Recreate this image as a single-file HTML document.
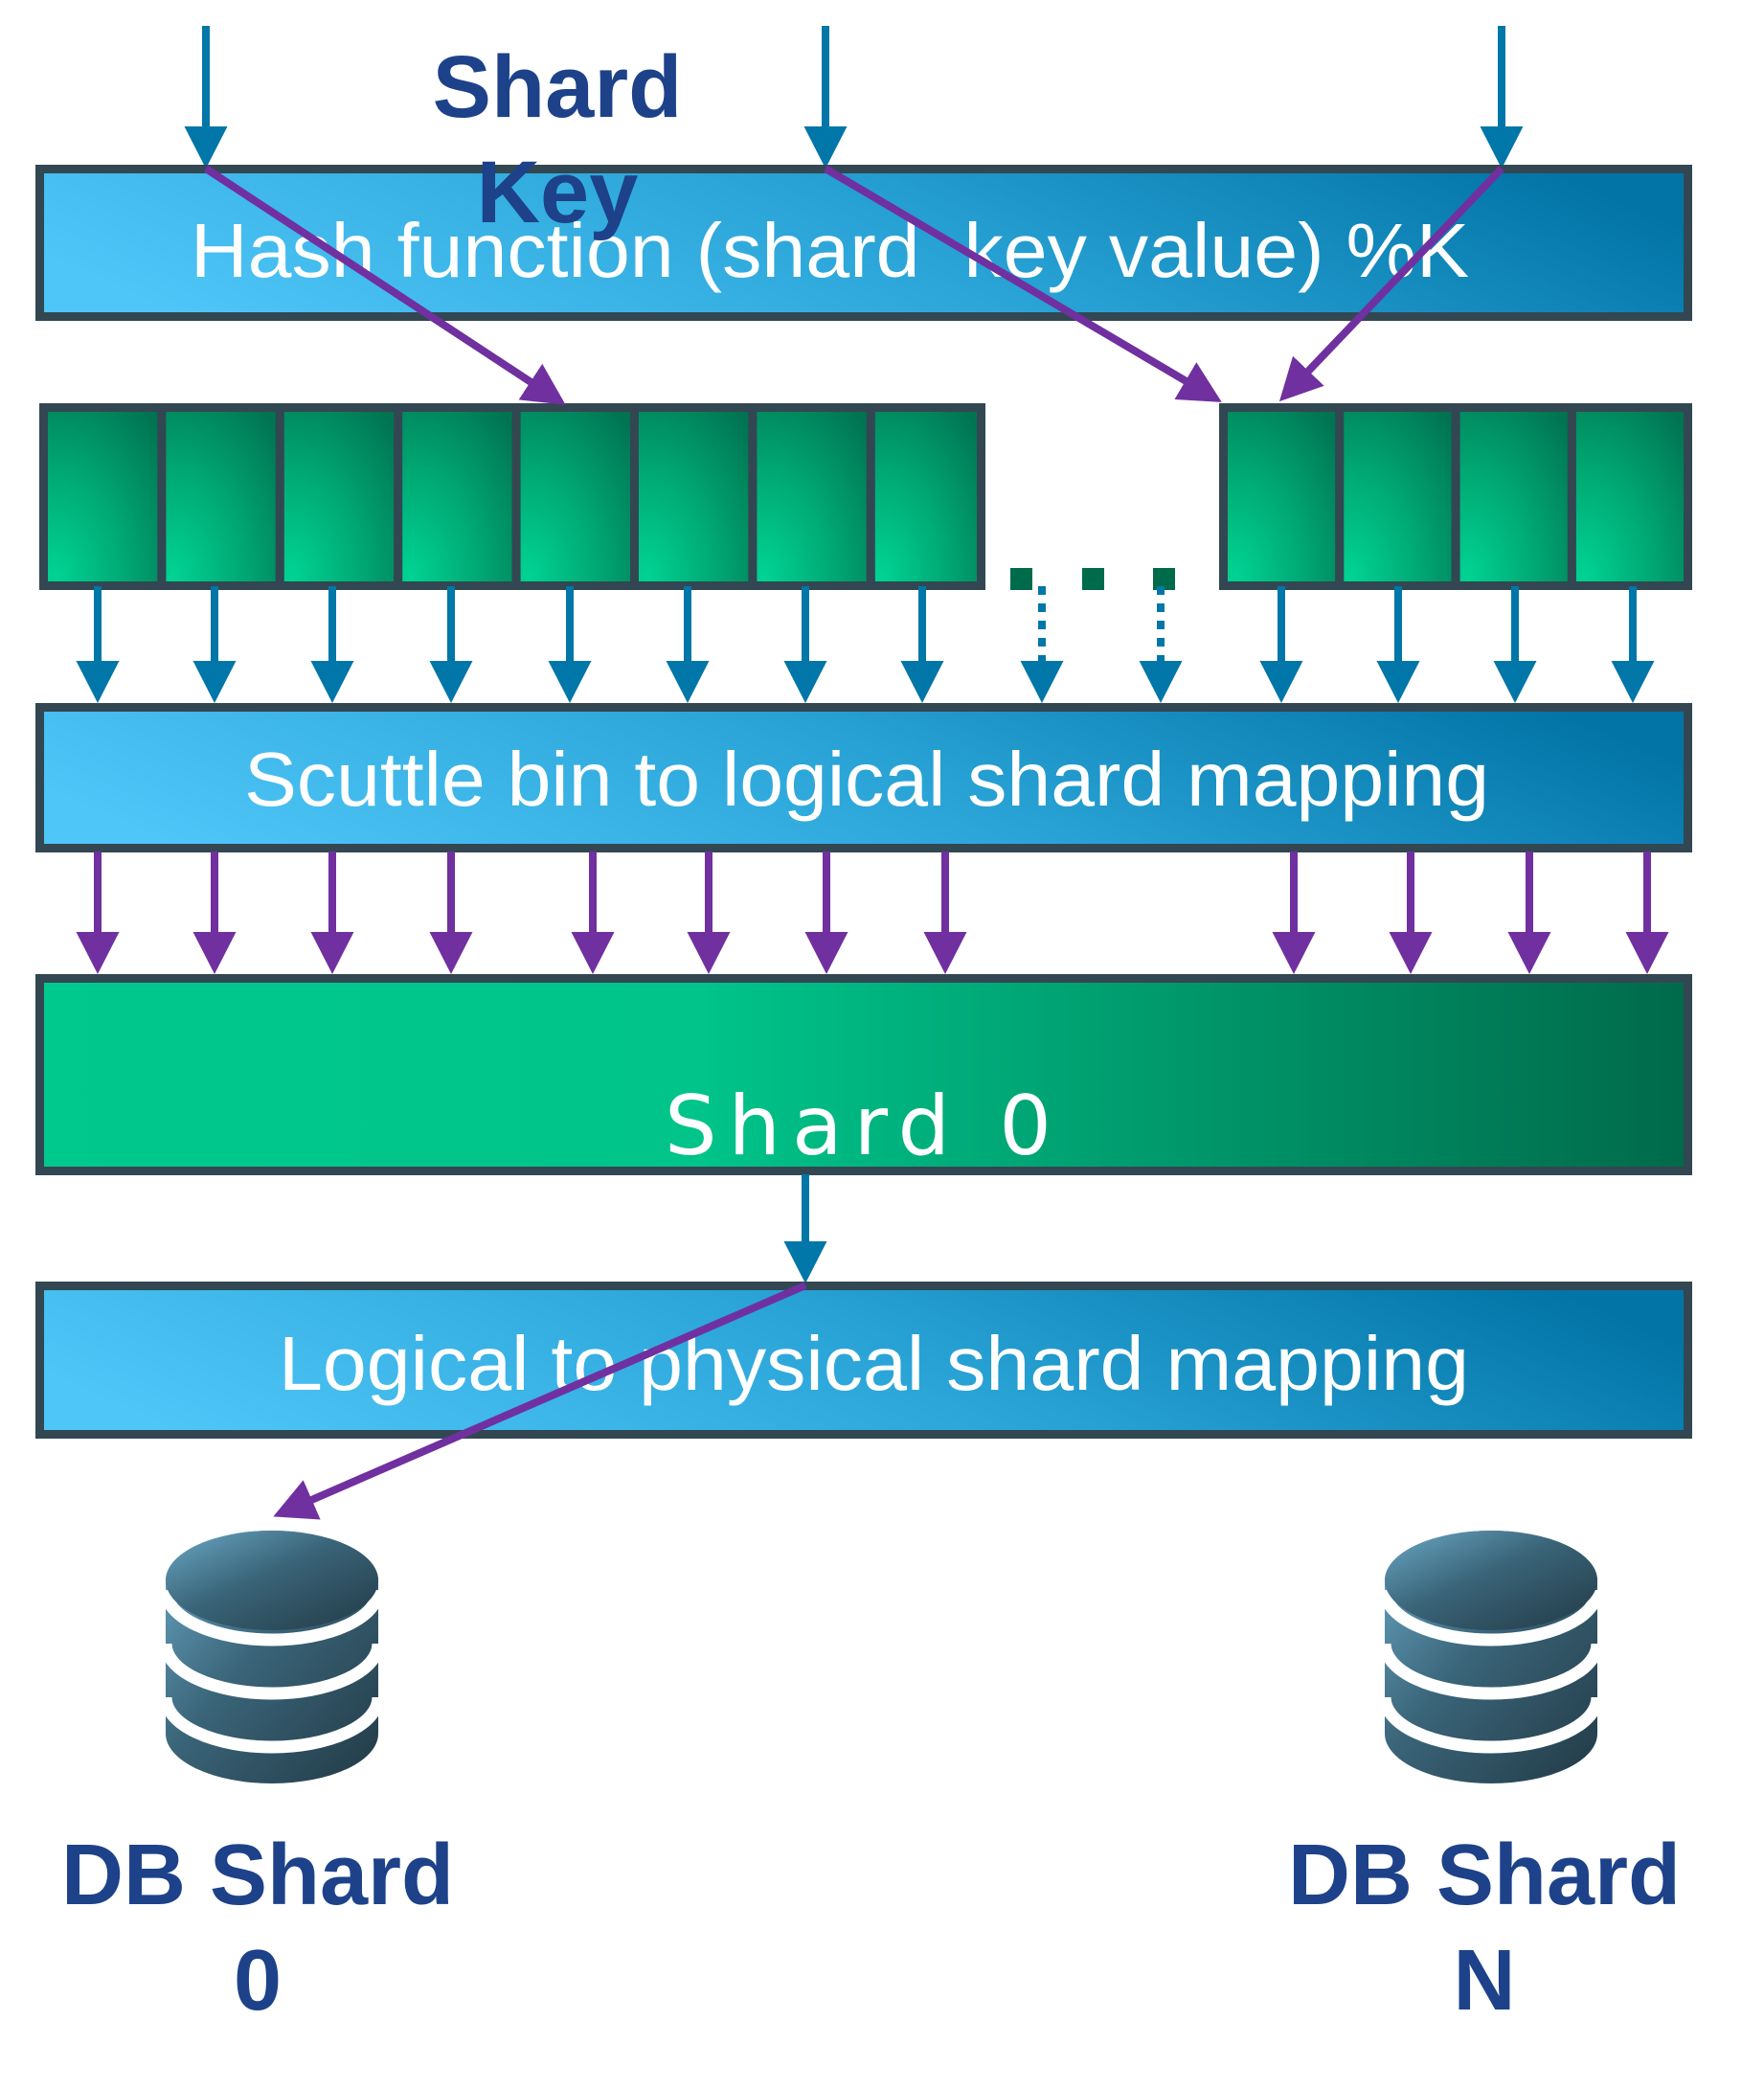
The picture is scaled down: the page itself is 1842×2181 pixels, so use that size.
<!DOCTYPE html>
<html><head><meta charset="utf-8"><style>html,body{margin:0;padding:0;background:#fff}svg{display:block}</style></head>
<body>
<svg width="1842" height="2181" viewBox="0 0 1842 2181" xmlns="http://www.w3.org/2000/svg">
<defs>
<linearGradient id="blue" x1="0" y1="0.6" x2="1" y2="0.4">
<stop offset="0" stop-color="#4fc6f8"/><stop offset="0.5" stop-color="#2ba5d8"/><stop offset="1" stop-color="#0274a6"/></linearGradient>
<linearGradient id="green" x1="0" y1="0" x2="1" y2="0">
<stop offset="0" stop-color="#00c98d"/><stop offset="0.4" stop-color="#00c48a"/><stop offset="1" stop-color="#006a4a"/></linearGradient>
<radialGradient id="cell" cx="0.1" cy="0.95" r="1.2">
<stop offset="0" stop-color="#00d393"/><stop offset="0.5" stop-color="#00a772"/><stop offset="1" stop-color="#007452"/></radialGradient>
<linearGradient id="db" x1="0" y1="0" x2="1" y2="1">
<stop offset="0" stop-color="#6aa9c6"/><stop offset="0.45" stop-color="#3a6478"/><stop offset="1" stop-color="#223a46"/></linearGradient>
<marker id="ab" markerUnits="userSpaceOnUse" markerWidth="50" markerHeight="46" refX="28" refY="22.5" orient="auto"><path d="M0,0 L44,22.5 L0,45 z" fill="#0176a8"/></marker>
<marker id="ap" markerUnits="userSpaceOnUse" markerWidth="50" markerHeight="46" refX="28" refY="22.5" orient="auto"><path d="M0,0 L44,22.5 L0,45 z" fill="#7030a0"/></marker>
</defs>

<g stroke="#0176a8" stroke-width="8" marker-end="url(#ab)">
<line x1="215" y1="27" x2="215" y2="160"/>
<line x1="862" y1="27" x2="862" y2="160"/>
<line x1="1568" y1="27" x2="1568" y2="160"/>
</g>

<rect x="41.5" y="176.5" width="1721" height="154" fill="url(#blue)" stroke="#324752" stroke-width="9"/>
<text x="199" y="289" xml:space="preserve" font-family="Liberation Sans, sans-serif" font-size="80" fill="#fff" textLength="1335" lengthAdjust="spacingAndGlyphs">Hash function (shard  key value) %K</text>

<text x="582" y="122" text-anchor="middle" font-family="Liberation Sans, sans-serif" font-weight="bold" font-size="92" fill="#1d428a">Shard</text>
<text x="582" y="232" text-anchor="middle" font-family="Liberation Sans, sans-serif" font-weight="bold" font-size="92" fill="#1d428a">Key</text>

<g stroke="#324752" stroke-width="9" fill="url(#cell)">
<rect x="45.5" y="425.5" width="123.4" height="186"/>
<rect x="168.9" y="425.5" width="123.4" height="186"/>
<rect x="292.3" y="425.5" width="123.4" height="186"/>
<rect x="415.7" y="425.5" width="123.4" height="186"/>
<rect x="539.1" y="425.5" width="123.4" height="186"/>
<rect x="662.5" y="425.5" width="123.4" height="186"/>
<rect x="785.9" y="425.5" width="123.4" height="186"/>
<rect x="909.3" y="425.5" width="115.2" height="186"/>
<rect x="1277.5" y="425.5" width="121.3" height="186"/>
<rect x="1398.8" y="425.5" width="121.3" height="186"/>
<rect x="1520.1" y="425.5" width="121.3" height="186"/>
<rect x="1641.4" y="425.5" width="121.1" height="186"/>
</g>
<g fill="#006b4a">
<rect x="1055" y="593" width="23" height="23"/>
<rect x="1130" y="593" width="23" height="23"/>
<rect x="1204" y="593" width="23" height="23"/>
</g>

<g stroke="#7030a0" stroke-width="8" marker-end="url(#ap)">
<line x1="215" y1="176" x2="577.3" y2="414"/>
<line x1="862" y1="176" x2="1262" y2="411.8"/>
<line x1="1568" y1="176" x2="1347" y2="407.5"/>
</g>

<g stroke="#0176a8" stroke-width="8" marker-end="url(#ab)">
<line x1="102" y1="612" x2="102" y2="718"/>
<line x1="224" y1="612" x2="224" y2="718"/>
<line x1="347" y1="612" x2="347" y2="718"/>
<line x1="471" y1="612" x2="471" y2="718"/>
<line x1="595" y1="612" x2="595" y2="718"/>
<line x1="718" y1="612" x2="718" y2="718"/>
<line x1="841" y1="612" x2="841" y2="718"/>
<line x1="963" y1="612" x2="963" y2="718"/>
<line x1="1338" y1="612" x2="1338" y2="718"/>
<line x1="1460" y1="612" x2="1460" y2="718"/>
<line x1="1582" y1="612" x2="1582" y2="718"/>
<line x1="1705" y1="612" x2="1705" y2="718"/>
<line x1="1088" y1="612" x2="1088" y2="718" stroke-dasharray="9,9"/>
<line x1="1212" y1="612" x2="1212" y2="718" stroke-dasharray="9,9"/>
</g>

<rect x="41.5" y="738.5" width="1721" height="147" fill="url(#blue)" stroke="#324752" stroke-width="9"/>
<text x="255" y="841" font-family="Liberation Sans, sans-serif" font-size="80" fill="#fff" textLength="1300" lengthAdjust="spacingAndGlyphs">Scuttle bin to logical shard mapping</text>

<g stroke="#7030a0" stroke-width="8" marker-end="url(#ap)">
<line x1="102" y1="889" x2="102" y2="1001"/>
<line x1="224" y1="889" x2="224" y2="1001"/>
<line x1="347" y1="889" x2="347" y2="1001"/>
<line x1="471" y1="889" x2="471" y2="1001"/>
<line x1="619" y1="889" x2="619" y2="1001"/>
<line x1="740" y1="889" x2="740" y2="1001"/>
<line x1="863" y1="889" x2="863" y2="1001"/>
<line x1="987" y1="889" x2="987" y2="1001"/>
<line x1="1351" y1="889" x2="1351" y2="1001"/>
<line x1="1473" y1="889" x2="1473" y2="1001"/>
<line x1="1597" y1="889" x2="1597" y2="1001"/>
<line x1="1720" y1="889" x2="1720" y2="1001"/>
</g>

<rect x="41.5" y="1021.5" width="1721" height="201" fill="url(#green)" stroke="#324752" stroke-width="9"/>
<text x="694" y="1205" font-family="DejaVu Sans, sans-serif" font-size="86" fill="#fff" textLength="404" lengthAdjust="spacing">Shard 0</text>

<line x1="841" y1="1226" x2="841" y2="1324" stroke="#0176a8" stroke-width="8" marker-end="url(#ab)"/>

<rect x="41.5" y="1342.5" width="1721" height="155" fill="url(#blue)" stroke="#324752" stroke-width="9"/>
<text x="291" y="1451" font-family="Liberation Sans, sans-serif" font-size="80" fill="#fff" textLength="1243" lengthAdjust="spacingAndGlyphs">Logical to physical shard mapping</text>

<line x1="841" y1="1342" x2="300" y2="1577" stroke="#7030a0" stroke-width="8" marker-end="url(#ap)"/>

<g>
<path d="M173,1650 A111,52 0 0 1 395,1650 L395,1810 A111,52 0 0 1 173,1810 Z" fill="url(#db)"/>
<path d="M173,1660 A111,52 0 0 0 395,1660" fill="none" stroke="#fff" stroke-width="13"/>
<path d="M173,1716 A111,52 0 0 0 395,1716" fill="none" stroke="#fff" stroke-width="13"/>
<path d="M173,1772 A111,52 0 0 0 395,1772" fill="none" stroke="#fff" stroke-width="13"/>
<ellipse cx="284" cy="1650" rx="111" ry="52" fill="url(#db)"/>
</g>
<g>
<path d="M1446,1650 A111,52 0 0 1 1668,1650 L1668,1810 A111,52 0 0 1 1446,1810 Z" fill="url(#db)"/>
<path d="M1446,1660 A111,52 0 0 0 1668,1660" fill="none" stroke="#fff" stroke-width="13"/>
<path d="M1446,1716 A111,52 0 0 0 1668,1716" fill="none" stroke="#fff" stroke-width="13"/>
<path d="M1446,1772 A111,52 0 0 0 1668,1772" fill="none" stroke="#fff" stroke-width="13"/>
<ellipse cx="1557" cy="1650" rx="111" ry="52" fill="url(#db)"/>
</g>

<g font-family="Liberation Sans, sans-serif" font-weight="bold" font-size="90" fill="#1d428a" text-anchor="middle">
<text x="269" y="1988">DB Shard</text>
<text x="269" y="2098">0</text>
<text x="1550" y="1988">DB Shard</text>
<text x="1550" y="2098">N</text>
</g>
</svg>
</body></html>
